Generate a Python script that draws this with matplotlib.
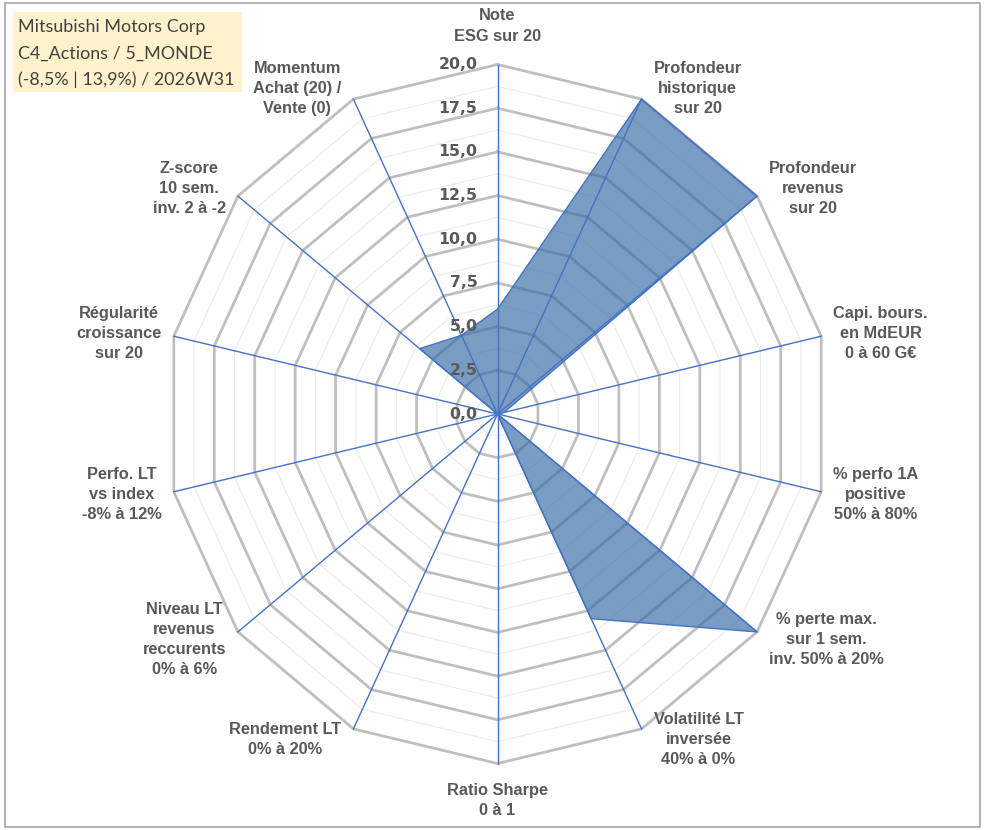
import numpy as np
import matplotlib
matplotlib.use("Agg")
import matplotlib.pyplot as plt
from matplotlib.patches import Polygon, Rectangle

# --- données ---
title_lines = [
    "Mitsubishi Motors Corp",
    "C4_Actions / 5_MONDE",
    "(-8,5% | 13,9%) / 2026W31",
]

categories = [
    "Note\nESG sur 20",
    "Profondeur\nhistorique\nsur 20",
    "Profondeur\nrevenus\nsur 20",
    "Capi. bours.\nen MdEUR\n0 à 60 G€",
    "% perfo 1A\npositive\n50% à 80%",
    "% perte max.\nsur 1 sem.\ninv. 50% à 20%",
    "Volatilité LT\ninversée\n40% à 0%",
    "Ratio Sharpe\n0 à 1",
    "Rendement LT\n0% à 20%",
    "Niveau LT\nrevenus\nreccurents\n0% à 6%",
    "Perfo. LT\nvs index\n-8% à 12%",
    "Régularité\ncroissance\nsur 20",
    "Z-score\n10 sem.\ninv. 2 à -2",
    "Momentum\nAchat (20) /\nVente (0)",
]

values = [6.0, 20.0, 20.0, 0.4, 0.0, 20.0, 13.0, 0.0, 0.0, 0.0, 0.0, 0.0, 6.0, 5.0]

r_max = 20.0
major_ticks = np.arange(0, 20.01, 2.5)
minor_ticks = np.arange(1.25, 20.0, 2.5)

# --- mise en page (pixels de l'image de référence) ---
W, H, DPI = 991, 830, 100
CX, CY = 497.5, 414.0        # centre du radar
R_PX = 349.5                 # rayon de 20 en vertical
X_SQUEEZE = 0.95             # l'original est légèrement écrasé en largeur

GRAY_TXT = "#595959"
BLUE = "#4472C4"

sx = R_PX * X_SQUEEZE / r_max
sy = R_PX / r_max

fig = plt.figure(figsize=(W / DPI, H / DPI), dpi=DPI)
ax = fig.add_axes([0, 0, 1, 1])
ax.set_xlim(-CX / sx, (W - CX) / sx)
ax.set_ylim(-(H - CY) / sy, CY / sy)
ax.axis("off")

n = len(categories)
theta = np.arange(n) * 2 * np.pi / n
ux, uy = np.sin(theta), np.cos(theta)


def ring(r):
    return np.column_stack([np.append(r * ux, r * ux[0]), np.append(r * uy, r * uy[0])])


# grille
for r in minor_ticks:
    p = ring(r)
    ax.plot(p[:, 0], p[:, 1], color="#EBEBEB", lw=0.8, zorder=1)
for r in major_ticks[1:]:
    p = ring(r)
    ax.plot(p[:, 0], p[:, 1], color="#BFBFBF", lw=2.0, zorder=1, solid_joinstyle="miter")

# série
vals = np.array(values)
pts = np.column_stack([vals * ux, vals * uy])
ax.add_patch(Polygon(pts, closed=True, facecolor="#3268A4", alpha=0.65,
                     edgecolor="none", zorder=2))

# rayons
for i in range(n):
    ax.plot([0, r_max * ux[i]], [0, r_max * uy[i]], color=BLUE, lw=1.0, zorder=3)

ax.add_patch(Polygon(pts, closed=True, facecolor="none", edgecolor=BLUE,
                     lw=1.0, zorder=4))

# graduations
for r in major_ticks:
    ax.annotate(f"{r:.1f}".replace(".", ","), xy=(0, r), xytext=(-20, 0),
                textcoords="offset pixels", ha="right", va="center",
                fontsize=11.3, fontweight="bold", color=GRAY_TXT,
                family="DejaVu Sans", zorder=5)

# libellés des axes
for i, lab in enumerate(categories):
    s, c = ux[i], uy[i]
    if abs(s) < 0.1:
        ha = "center"
        va = "bottom" if c > 0 else "top"
        off = (0, 21 if c > 0 else -19)
    else:
        ha = "left" if s > 0 else "right"
        va = "center"
        off = (12 * np.sign(s), 12 * c)
    ax.annotate(lab, xy=(r_max * s, r_max * c), xytext=off,
                textcoords="offset pixels", ha=ha, va=va, multialignment="center",
                fontsize=11.8, fontweight="bold", color=GRAY_TXT,
                family="Liberation Sans", linespacing=1.42, zorder=5)

# encadré du titre
fig.patches.append(Rectangle((12.7 / W, 1 - 91.7 / H), (242 - 12.7) / W, 80 / H,
                             transform=fig.transFigure, facecolor="#FFF2CC",
                             edgecolor="none", zorder=0))
for k, line in enumerate(title_lines):
    fig.text(18.3 / W, 1 - (26.7 + 26.6 * k) / H, line, ha="left", va="center",
             fontsize=12.9, color="#404040", family="Lato")

# bordure de la zone de graphique
fig.patches.append(Rectangle((5 / W, 1 - 827 / H), (980 - 5) / W, (827 - 3) / H,
                             transform=fig.transFigure, facecolor="none",
                             edgecolor="#A6A6A6", lw=1.2))

fig.savefig("out.png", dpi=DPI)
